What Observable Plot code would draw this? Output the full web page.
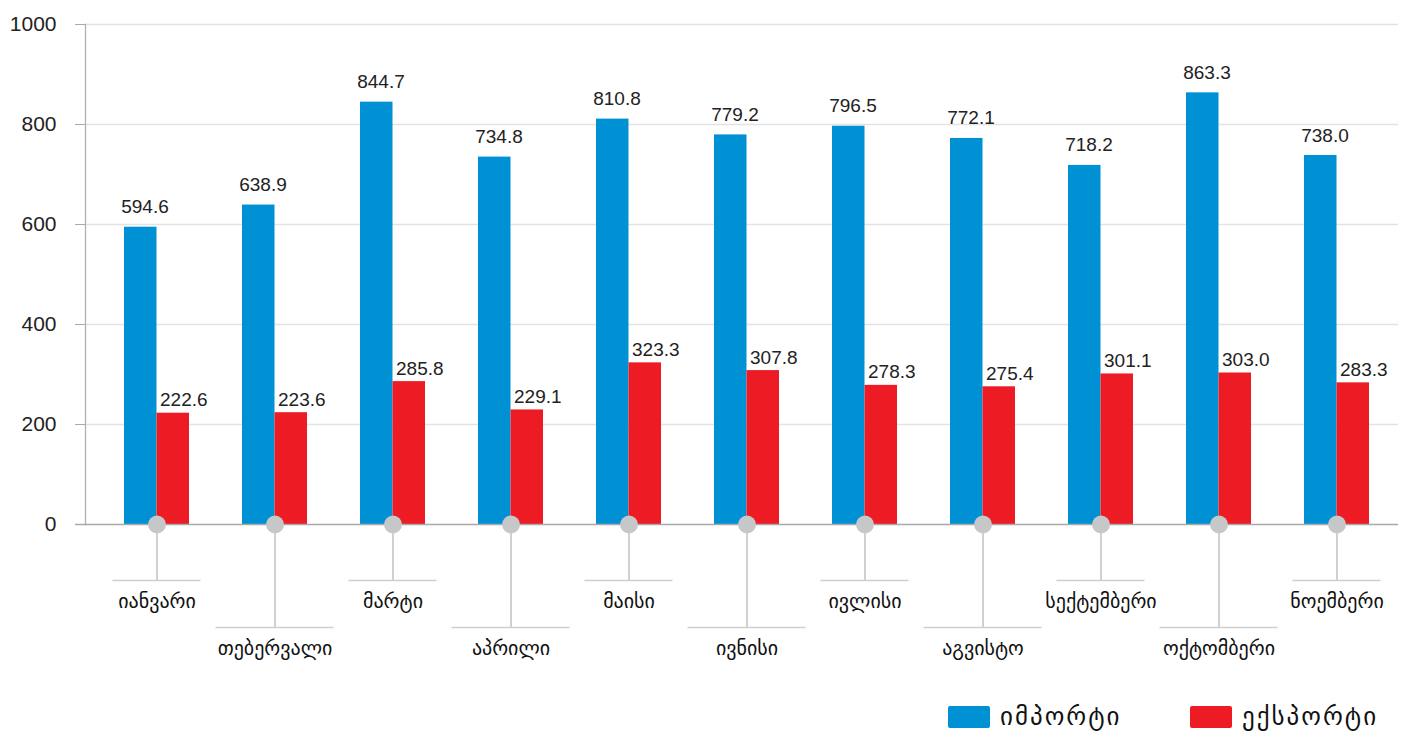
<!DOCTYPE html>
<html>
<head>
<meta charset="utf-8">
<script src="https://cdn.jsdelivr.net/npm/d3@7"></script>
<script src="https://cdn.jsdelivr.net/npm/@observablehq/plot@0.6"></script>
<style>
  html, body { margin: 0; padding: 0; background: #fff; }
  #wrap { position: relative; width: 1408px; height: 731px; overflow: hidden; font-family: "Liberation Sans", "DejaVu Sans", sans-serif; }
  #legend { position: absolute; left: 948px; top: 704px; height: 26px; display: flex; align-items: center; }
  .item { display: flex; align-items: center; width: 242px; height: 26px; }
  .sw { width: 42px; height: 22px; border-radius: 2px; margin-right: 10px; flex: none; }
  .lab { font-family: "DejaVu Sans", sans-serif; font-size: 25px; line-height: 26px; letter-spacing: 2px; color: #111; white-space: nowrap; }
</style>
</head>
<body>
<div id="wrap">
  <div id="chart"></div>
  <div id="legend"></div>
</div>
<script>
const months = ["იანვარი","თებერვალი","მარტი","აპრილი","მაისი","ივნისი","ივლისი","აგვისტო","სექტემბერი","ოქტომბერი","ნოემბერი"];
const importValues = [594.6, 638.9, 844.7, 734.8, 810.8, 779.2, 796.5, 772.1, 718.2, 863.3, 738.0];
const exportValues = [222.6, 223.6, 285.8, 229.1, 323.3, 307.8, 278.3, 275.4, 301.1, 303.0, 283.3];
const yTicks = [0, 200, 400, 600, 800, 1000];
const seriesNames = ["იმპორტი", "ექსპორტი"];
const seriesColors = ["#0091d5", "#ed1c24"];

const rows = months.map((m, i) => ({month: m, imp: importValues[i], exp: exportValues[i], i}));
const shortRows = rows.filter(d => d.i % 2 === 0);
const longRows = rows.filter(d => d.i % 2 === 1);
const fmt = d3.format(".1f");

const chart = Plot.plot({
  width: 1408,
  height: 690,
  marginLeft: 85,
  marginRight: 10,
  marginTop: 24,
  marginBottom: 166,
  style: {fontFamily: "'Liberation Sans', 'DejaVu Sans', sans-serif", background: "#fff", overflow: "visible"},
  x: {domain: months, range: [95, 1398], paddingInner: 0.45, paddingOuter: 0.225, axis: null},
  y: {domain: [0, 1000], axis: null},
  marks: [
    Plot.gridY(yTicks.filter(t => t > 0), {stroke: "#e3e3e3", strokeOpacity: 1, strokeWidth: 1.3}),
    Plot.axisY(yTicks, {tickSize: 10, tickPadding: 19, fontSize: 21, stroke: "#aaa", fill: "#222", tickFormat: d => String(d)}),
    Plot.frame({anchor: "left", stroke: "#b0b0b0", strokeWidth: 1.3}),
    Plot.barY(rows, {x: "month", y: "imp", fill: seriesColors[0], insetRight: 32.5}),
    Plot.barY(rows, {x: "month", y: "exp", fill: seriesColors[1], insetLeft: 32.5}),
    Plot.ruleY([0], {stroke: "#a8a8a8", strokeWidth: 1.5, insetLeft: -10}),
    Plot.text(rows, {x: "month", y: "imp", text: d => fmt(d.imp), dx: -12, dy: -14, lineAnchor: "bottom", fontSize: 19, fill: "#222"}),
    Plot.text(rows, {x: "month", y: "exp", text: d => fmt(d.exp), dx: 3, dy: -7, textAnchor: "start", lineAnchor: "bottom", fontSize: 19, fill: "#222"}),
    Plot.ruleX(shortRows, {x: "month", y1: 0, y2: 0, insetBottom: -56, stroke: "#d0d0d0", strokeWidth: 2}),
    Plot.ruleX(longRows, {x: "month", y1: 0, y2: 0, insetBottom: -103, stroke: "#d0d0d0", strokeWidth: 2}),
    Plot.tickY(shortRows, {x: "month", y: 0, dy: 56, insetLeft: -11.5, insetRight: -11.5, stroke: "#cfcfcf", strokeWidth: 1.5}),
    Plot.tickY(longRows, {x: "month", y: 0, dy: 103, insetLeft: -26.5, insetRight: -26.5, stroke: "#cfcfcf", strokeWidth: 1.5}),
    Plot.dot(rows, {x: "month", y: 0, r: 9, fill: "#c6c7c9", stroke: "none"}),
    Plot.text(shortRows, {x: "month", y: 0, dy: 77, text: "month", fontSize: 20, fontFamily: "'DejaVu Sans', sans-serif", fill: "#111"}),
    Plot.text(longRows, {x: "month", y: 0, dy: 124, text: "month", fontSize: 20, fontFamily: "'DejaVu Sans', sans-serif", fill: "#111"})
  ]
});
document.getElementById("chart").appendChild(chart);

const legend = document.getElementById("legend");
seriesNames.forEach((name, k) => {
  const item = document.createElement("div");
  item.className = "item";
  const sw = document.createElement("div");
  sw.className = "sw";
  sw.style.background = seriesColors[k];
  const lab = document.createElement("span");
  lab.className = "lab";
  lab.textContent = name;
  item.appendChild(sw);
  item.appendChild(lab);
  legend.appendChild(item);
});
</script>
</body>
</html>
